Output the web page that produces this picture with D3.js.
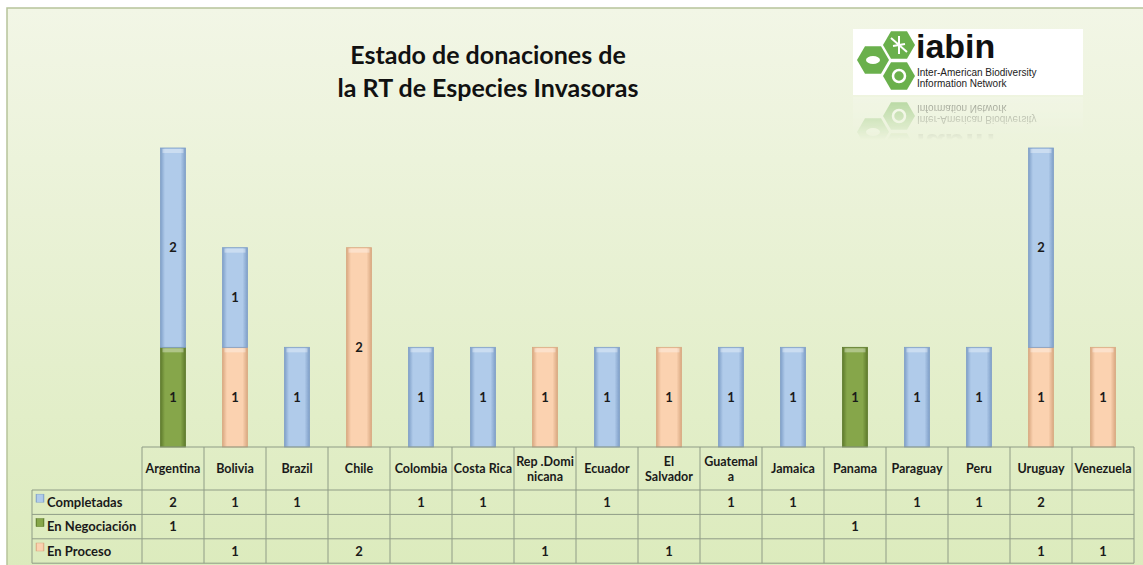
<!DOCTYPE html>
<html>
<head>
<meta charset="utf-8">
<script src="https://cdn.jsdelivr.net/npm/d3@7"></script>
<style>
  body { margin: 0; background: #fff; }
  svg { display: block; font-family: Lato, "Open Sans", sans-serif; }
</style>
</head>
<body>
<svg class="svg" width="1143" height="565"></svg>
<script>
// donnees du graphique
const countries = ["Argentina", "Bolivia", "Brazil", "Chile", "Colombia", "Costa Rica", "Rep .Dominicana", "Ecuador",
  "El Salvador", "Guatemala", "Jamaica", "Panama", "Paraguay", "Peru", "Uruguay", "Venezuela"];
const headerLines = [["Argentina"], ["Bolivia"], ["Brazil"], ["Chile"], ["Colombia"], ["Costa Rica"], ["Rep .Domi", "nicana"],
  ["Ecuador"], ["El", "Salvador"], ["Guatemal", "a"], ["Jamaica"], ["Panama"], ["Paraguay"], ["Peru"], ["Uruguay"], ["Venezuela"]];
const completadas = [2, 1, 1, 0, 1, 1, 0, 1, 0, 1, 1, 0, 1, 1, 2, 0];
const negociacion = [1, 0, 0, 0, 0, 0, 0, 0, 0, 0, 0, 1, 0, 0, 0, 0];
const proceso     = [0, 1, 0, 2, 0, 0, 1, 0, 1, 0, 0, 0, 0, 0, 1, 1];
const seriesNames = ["Completadas", "En Negociación", "En Proceso"];
const titleLines = ["Estado de donaciones de", "la RT de Especies Invasoras"];

const colors = {
  "Completadas": ["#7f9fc8", "#b0cbea"],
  "En Negociación": ["#5e7a2c", "#86a64a"],
  "En Proceso": ["#d9a881", "#fbd2b0"]
};

const svg = d3.select(".svg");
const defs = svg.append("defs");

// fond
const bg = defs.append("linearGradient").attr("id", "bg").attr("x1", 0).attr("y1", 0).attr("x2", 0).attr("y2", 1);
bg.append("stop").attr("offset", "0%").attr("stop-color", "#f2f6e6");
bg.append("stop").attr("offset", "100%").attr("stop-color", "#dcebbd");

svg.append("rect").attr("x", 7).attr("y", 8).attr("width", 1140).attr("height", 560)
  .attr("fill", "url(#bg)").attr("stroke", "#b6c49a").attr("stroke-width", 1.5);

// degrades des barres
Object.entries(colors).forEach(([k, c], i) => {
  const g = defs.append("linearGradient").attr("id", "bar" + i).attr("x1", 0).attr("x2", 1).attr("y1", 0).attr("y2", 0);
  g.append("stop").attr("offset", "0%").attr("stop-color", c[0]);
  g.append("stop").attr("offset", "18%").attr("stop-color", c[1]);
  g.append("stop").attr("offset", "80%").attr("stop-color", c[1]);
  g.append("stop").attr("offset", "100%").attr("stop-color", c[0]);
});

// titre
svg.append("g").selectAll("text").data(titleLines).enter().append("text")
  .attr("x", 488).attr("y", (d, i) => 64 + i * 33)
  .attr("text-anchor", "middle").attr("font-weight", "bold").attr("font-size", 25)
  .attr("fill", "#111").text(d => d);

// echelles
const x = d3.scaleBand().domain(countries).range([142, 1134]);
const y = d3.scaleLinear().domain([0, 3]).range([447, 148]);
const barW = 25;

const rows = countries.map((c, i) => ({ country: c, "Completadas": completadas[i], "En Negociación": negociacion[i], "En Proceso": proceso[i] }));
const stack = d3.stack().keys(["En Negociación", "En Proceso", "Completadas"]);
const stacked = stack(rows);

const barsG = svg.append("g");
stacked.forEach(layer => {
  const idx = seriesNames.indexOf(layer.key);
  const g = barsG.append("g");
  const segs = layer.filter(d => d[1] - d[0] > 0);
  g.selectAll("rect").data(segs).enter().append("rect")
    .attr("x", d => x(d.data.country) + x.bandwidth() / 2 - barW / 2)
    .attr("y", d => y(d[1]))
    .attr("width", barW)
    .attr("height", d => y(d[0]) - y(d[1]))
    .attr("fill", "url(#bar" + idx + ")")
    .attr("stroke", colors[layer.key][0]).attr("stroke-width", 0.8);
  // reflet en haut
  g.selectAll("rect.cap").data(segs).enter().append("rect").attr("class", "cap")
    .attr("x", d => x(d.data.country) + x.bandwidth() / 2 - barW / 2 + 2)
    .attr("y", d => y(d[1]) + 1)
    .attr("width", barW - 4).attr("height", 4)
    .attr("fill", "#fff").attr("opacity", 0.35);
  g.selectAll("text").data(segs).enter().append("text")
    .attr("x", d => x(d.data.country) + x.bandwidth() / 2)
    .attr("y", d => (y(d[0]) + y(d[1])) / 2 + 4.5)
    .attr("text-anchor", "middle").attr("font-weight", "bold").attr("font-size", 13)
    .attr("fill", "#1a1a1a").text(d => d[1] - d[0]);
});

// tableau de donnees
const tbl = svg.append("g");
const lineColor = "#8f9c86";
const hTop = 447, hBot = 490, rowH = 24.4, labelX = 32;
const rowVals = [completadas, negociacion, proceso];

// lignes horizontales
tbl.append("line").attr("x1", 142).attr("x2", 1134).attr("y1", hTop).attr("y2", hTop).attr("stroke", lineColor);
[0, 1, 2, 3].forEach(r => {
  tbl.append("line").attr("x1", labelX).attr("x2", 1134)
    .attr("y1", hBot + r * rowH).attr("y2", hBot + r * rowH).attr("stroke", lineColor);
});
// lignes verticales
countries.forEach(c => {
  tbl.append("line").attr("x1", x(c)).attr("x2", x(c)).attr("y1", hTop).attr("y2", hBot + 3 * rowH).attr("stroke", lineColor);
});
tbl.append("line").attr("x1", 1134).attr("x2", 1134).attr("y1", hTop).attr("y2", hBot + 3 * rowH).attr("stroke", lineColor);
tbl.append("line").attr("x1", labelX).attr("x2", labelX).attr("y1", hBot).attr("y2", hBot + 3 * rowH).attr("stroke", lineColor);

// en-tetes
countries.forEach((c, i) => {
  const lines = headerLines[i];
  const cy = (hTop + hBot) / 2;
  tbl.append("g").selectAll("text").data(lines).enter().append("text")
    .attr("x", x(c) + x.bandwidth() / 2)
    .attr("y", (d, j) => cy + 4.5 + (j - (lines.length - 1) / 2) * 15)
    .attr("text-anchor", "middle").attr("font-weight", "bold").attr("font-size", 12.5)
    .attr("fill", "#1a1a1a").text(d => d);
});

// etiquettes des series et valeurs
seriesNames.forEach((s, r) => {
  const cy = hBot + r * rowH + rowH / 2;
  tbl.append("rect").attr("x", labelX + 4).attr("y", cy - 8).attr("width", 8).attr("height", 8)
    .attr("fill", "url(#bar" + r + ")").attr("stroke", colors[s][0]).attr("stroke-width", 0.5);
  tbl.append("text").attr("x", labelX + 15).attr("y", cy + 4.5)
    .attr("font-weight", "bold").attr("font-size", 13).attr("fill", "#1a1a1a").text(s);
  tbl.selectAll(null).data(rowVals[r]).enter().append("text")
    .attr("x", (d, i) => x(countries[i]) + x.bandwidth() / 2)
    .attr("y", cy + 4.5)
    .attr("text-anchor", "middle").attr("font-weight", "bold").attr("font-size", 13)
    .attr("fill", "#1a1a1a").text(d => d ? d : "");
});

// logo iabin
function drawLogo(g) {
  g.append("rect").attr("class", "box").attr("x", 853).attr("y", 29).attr("width", 230).attr("height", 66).attr("fill", "#fff");
  const hex = (cx, cy, r) => d3.range(6).map(k => {
    const a = Math.PI / 3 * k;
    return [cx + r * Math.cos(a), cy + r * Math.sin(a)];
  });
  const hexes = [[873, 60, 16], [899, 45, 16], [899, 76, 16]];
  g.selectAll("path.hex").data(hexes).enter().append("path").attr("class", "hex")
    .attr("d", d => d3.line()(hex(d[0], d[1], d[2])) + "Z")
    .attr("fill", "#6ab04c");
  g.append("circle").attr("cx", 899).attr("cy", 76).attr("r", 6).attr("fill", "none").attr("stroke", "#fff").attr("stroke-width", 2.5);
  g.append("ellipse").attr("cx", 873).attr("cy", 60).attr("rx", 7).attr("ry", 4).attr("fill", "#fff");
  g.append("path").attr("d", "M891 38 L907 52 M899 36 L899 54 M893 46 L905 44").attr("stroke", "#fff").attr("stroke-width", 2);
  g.append("text").attr("x", 916).attr("y", 58).attr("font-family", "Arial, 'Liberation Sans', sans-serif")
    .attr("font-weight", "bold").attr("font-size", 34).attr("fill", "#111").text("iabin");
  g.append("text").attr("x", 917).attr("y", 76).attr("font-family", "'Liberation Sans Narrow', Arial, sans-serif")
    .attr("font-size", 10).attr("fill", "#222").text("Inter-American Biodiversity");
  g.append("text").attr("x", 917).attr("y", 87).attr("font-family", "'Liberation Sans Narrow', Arial, sans-serif")
    .attr("font-size", 10).attr("fill", "#222").text("Information Network");
}
drawLogo(svg.append("g"));

// reflet du logo, qui s'efface vers le bas
const fade = defs.append("linearGradient").attr("id", "fade").attr("gradientUnits", "userSpaceOnUse")
  .attr("x1", 0).attr("y1", 96).attr("x2", 0).attr("y2", 140);
fade.append("stop").attr("offset", "0%").attr("stop-color", "#fff").attr("stop-opacity", 0.45);
fade.append("stop").attr("offset", "100%").attr("stop-color", "#fff").attr("stop-opacity", 0);
defs.append("mask").attr("id", "fadeMask").attr("maskUnits", "userSpaceOnUse")
  .append("rect").attr("x", 840).attr("y", 96).attr("width", 260).attr("height", 50).attr("fill", "url(#fade)");
const refl = svg.append("g").attr("mask", "url(#fadeMask)")
  .append("g").attr("transform", "translate(0,192) scale(1,-1)");
drawLogo(refl);
refl.select("rect.box").attr("fill", "#fff").attr("opacity", 0.4);
</script>
</body>
</html>
